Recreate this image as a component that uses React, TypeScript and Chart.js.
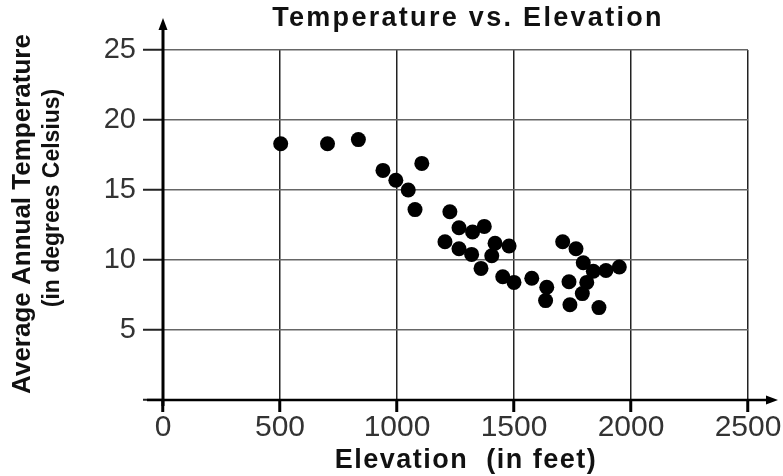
import React, { useEffect, useRef } from "react";
import { Chart, registerables } from "chart.js";

Chart.register(...registerables);

const elevation = [503, 703, 835, 940, 995, 1048, 1077, 1106, 1205, 1226, 1265, 1265, 1319, 1323, 1359, 1373, 1405, 1419, 1452, 1479, 1500, 1576, 1635, 1640, 1708, 1735, 1739, 1765, 1792, 1796, 1811, 1839, 1863, 1893, 1950];
const temperature = [18.3, 18.3, 18.6, 16.4, 15.7, 15.0, 13.6, 16.9, 11.3, 13.45, 12.3, 10.8, 10.4, 12.0, 9.4, 12.4, 10.3, 11.2, 8.8, 11.0, 8.4, 8.7, 7.1, 8.05, 11.3, 8.45, 6.8, 10.8, 7.6, 9.8, 8.4, 9.2, 6.6, 9.25, 9.5];

const chartTitle = "Temperature vs. Elevation";
const xTitle = "Elevation  (in feet)";
const yTitleLines = ["Average Annual Temperature", "(in degrees Celsius)"];
const xRange = [0, 2500];
const yRange = [0, 25];

const decor = {
  id: "decor",
  afterDraw(chart: any) {
    const ctx = chart.ctx as CanvasRenderingContext2D;
    const xs = chart.scales.x;
    const ys = chart.scales.y;
    const x0 = xs.getPixelForValue(0);
    const y0 = ys.getPixelForValue(0);
    const yTop = ys.getPixelForValue(25);
    const xEnd = xs.getPixelForValue(2500);
    ctx.save();
    ctx.strokeStyle = "#000";
    ctx.fillStyle = "#000";
    // y axis
    ctx.lineWidth = 3;
    ctx.beginPath();
    ctx.moveTo(x0, y0 + 6);
    ctx.lineTo(x0, yTop - 22);
    ctx.stroke();
    ctx.beginPath();
    ctx.moveTo(x0, yTop - 32);
    ctx.lineTo(x0 - 4.5, yTop - 20);
    ctx.lineTo(x0 + 4.5, yTop - 20);
    ctx.closePath();
    ctx.fill();
    // x axis
    ctx.lineWidth = 2.5;
    ctx.beginPath();
    ctx.moveTo(x0 - 16, y0);
    ctx.lineTo(xEnd + 20, y0);
    ctx.stroke();
    ctx.beginPath();
    ctx.moveTo(xEnd + 30, y0);
    ctx.lineTo(xEnd + 18, y0 - 4.5);
    ctx.lineTo(xEnd + 18, y0 + 4.5);
    ctx.closePath();
    ctx.fill();
    // texts
    ctx.fillStyle = "#111";
    ctx.textAlign = "center";
    ctx.textBaseline = "middle";
    (ctx as any).letterSpacing = "2.3px";
    ctx.font = "bold 27px 'Liberation Sans', Arial, sans-serif";
    ctx.fillText(chartTitle, 468, 19);
    (ctx as any).letterSpacing = "1.5px";
    ctx.font = "bold 27px 'Liberation Sans', Arial, sans-serif";
    ctx.fillText(xTitle, 466, 461);
    (ctx as any).letterSpacing = "0px";
    ctx.save();
    ctx.translate(23, 214);
    ctx.rotate(-Math.PI / 2);
    ctx.font = "bold 26px 'Liberation Sans', Arial, sans-serif";
    ctx.fillText(yTitleLines[0], 0, 0);
    ctx.restore();
    ctx.save();
    ctx.translate(53, 198);
    ctx.rotate(-Math.PI / 2);
    ctx.font = "bold 23px 'Liberation Sans', Arial, sans-serif";
    ctx.fillText(yTitleLines[1], 0, 0);
    ctx.restore();
    ctx.restore();
  },
};

export default function App() {
  const ref = useRef<HTMLCanvasElement | null>(null);
  useEffect(() => {
    if (!ref.current) return;
    const chart = new Chart(ref.current, {
      type: "scatter",
      data: {
        datasets: [
          {
            data: elevation.map((e, i) => ({ x: e, y: temperature[i] })),
            backgroundColor: "#000",
            borderColor: "#000",
            borderWidth: 0,
            pointRadius: 7.5,
          },
        ],
      },
      options: {
        responsive: false,
        animation: false,
        layout: { padding: { left: 0, top: 50, right: 35, bottom: 0 } },
        plugins: { legend: { display: false }, tooltip: { enabled: false }, title: { display: false } },
        scales: {
          x: {
            type: "linear",
            min: xRange[0],
            max: xRange[1],
            afterFit: (s: any) => {
              s.height = 76;
            },
            border: { display: false },
            grid: { color: "#222", lineWidth: 1.5, tickLength: 12, tickColor: "#000", tickWidth: 3 },
            ticks: {
              stepSize: 500,
              padding: -2,
              color: "#333",
              font: { family: "'Liberation Sans', Arial, sans-serif", size: 30 },
              callback: (v: any) => String(v),
            },
          },
          y: {
            type: "linear",
            min: yRange[0],
            max: yRange[1],
            afterFit: (s: any) => {
              s.width = 163;
            },
            border: { display: false },
            grid: { color: "#666", lineWidth: 1.5, tickLength: 20, tickColor: "#222", tickWidth: 2 },
            ticks: {
              stepSize: 5,
              padding: 7,
              color: "#333",
              font: { family: "'Liberation Sans', Arial, sans-serif", size: 29 },
              callback: (v: any) => (v === 0 ? "" : String(v)),
            },
          },
        },
      },
      plugins: [decor],
    });
    return () => chart.destroy();
  }, []);
  return (
    <div style={{ position: "absolute", left: 0, top: 0, width: 783, height: 476, background: "#fff" }}>
      <canvas ref={ref} width={783} height={476} style={{ display: "block" }} />
    </div>
  );
}
